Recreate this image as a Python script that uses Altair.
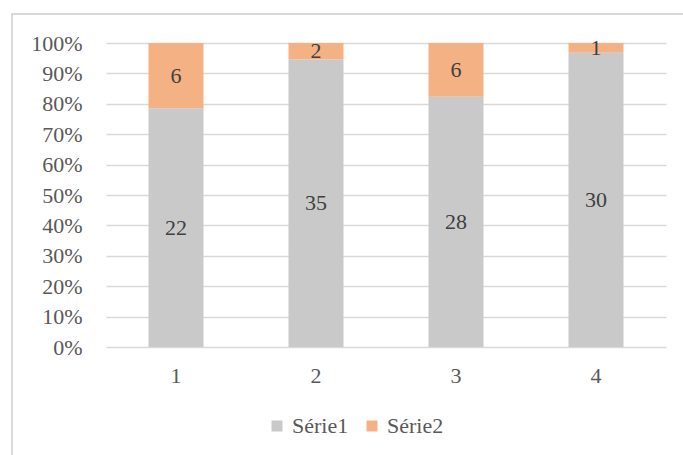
import altair as alt
import pandas as pd

# Values per category for the two series
categories = ["1", "2", "3", "4"]
serie1 = [22, 35, 28, 30]
serie2 = [6, 2, 6, 1]
series_names = ["Série1", "Série2"]
series_colors = ["#c9c9c9", "#f4b183"]
y_ticks = [0, 0.1, 0.2, 0.3, 0.4, 0.5, 0.6, 0.7, 0.8, 0.9, 1.0]

rows = []
for cat, a, b in zip(categories, serie1, serie2):
    rows.append({"cat": cat, "serie": series_names[0], "value": a, "order": 0})
    rows.append({"cat": cat, "serie": series_names[1], "value": b, "order": 1})
df = pd.DataFrame(rows)

W, H = 560, 304
FONT = "Liberation Serif"
GRID = "#d9d9d9"

base = alt.Chart(df).transform_stack(
    stack="value",
    groupby=["cat"],
    as_=["y0", "y1"],
    offset="normalize",
    sort=[alt.SortField("order", order="ascending")],
).transform_calculate(mid="(datum.y0 + datum.y1) / 2")

x_scale = alt.Scale(paddingInner=0.607, paddingOuter=0.3035)
x_axis = alt.Axis(
    title=None, labelAngle=0, ticks=False, domain=False, grid=False,
    labelFont=FONT, labelFontSize=22, labelColor="#595959", labelPadding=18,
)
y_scale = alt.Scale(domain=[0, 1], nice=False)
y_axis = alt.Axis(
    title=None, format=".0%", values=y_ticks, ticks=False, domain=False,
    grid=True, gridColor=GRID, gridWidth=1.4, labelOverlap=False,
    labelFont=FONT, labelFontSize=22, labelColor="#595959", labelPadding=24,
)

bars = base.mark_bar().encode(
    x=alt.X("cat:N", sort=categories, scale=x_scale, axis=x_axis),
    y=alt.Y("y0:Q", scale=y_scale, axis=y_axis),
    y2="y1:Q",
    color=alt.Color(
        "serie:N",
        scale=alt.Scale(domain=series_names, range=series_colors),
        legend=alt.Legend(
            title=None, orient="none", direction="horizontal",
            legendX=160, legendY=372, padding=0,
            symbolType="square", symbolSize=121, symbolStrokeWidth=0,
            labelFont=FONT, labelFontSize=22, labelColor="#595959",
            labelOffset=4, columnPadding=12,
        ),
    ),
)

labels = base.mark_text(
    font=FONT, fontSize=22, color="#404040", align="center", baseline="middle"
).encode(
    x=alt.X("cat:N", sort=categories, scale=x_scale, axis=x_axis),
    y=alt.Y("mid:Q", scale=y_scale, axis=y_axis),
    text="value:Q",
)

# Light frame around the whole chart
frame = alt.Chart(pd.DataFrame({"k": [0]})).mark_rect(
    fill="transparent", stroke=GRID, strokeWidth=2
).encode(
    x=alt.value(-94), x2=alt.value(W + 40),
    y=alt.value(-29), y2=alt.value(H + 140),
)

chart = alt.layer(frame, bars, labels).properties(
    width=W,
    height=H,
    autosize=alt.AutoSizeParams(type="none"),
    padding={"left": 106, "top": 43, "right": 17, "bottom": 108},
    background="white",
).configure_view(stroke=None)

chart.save("out.html", embed_options={"renderer": "svg", "actions": False})
